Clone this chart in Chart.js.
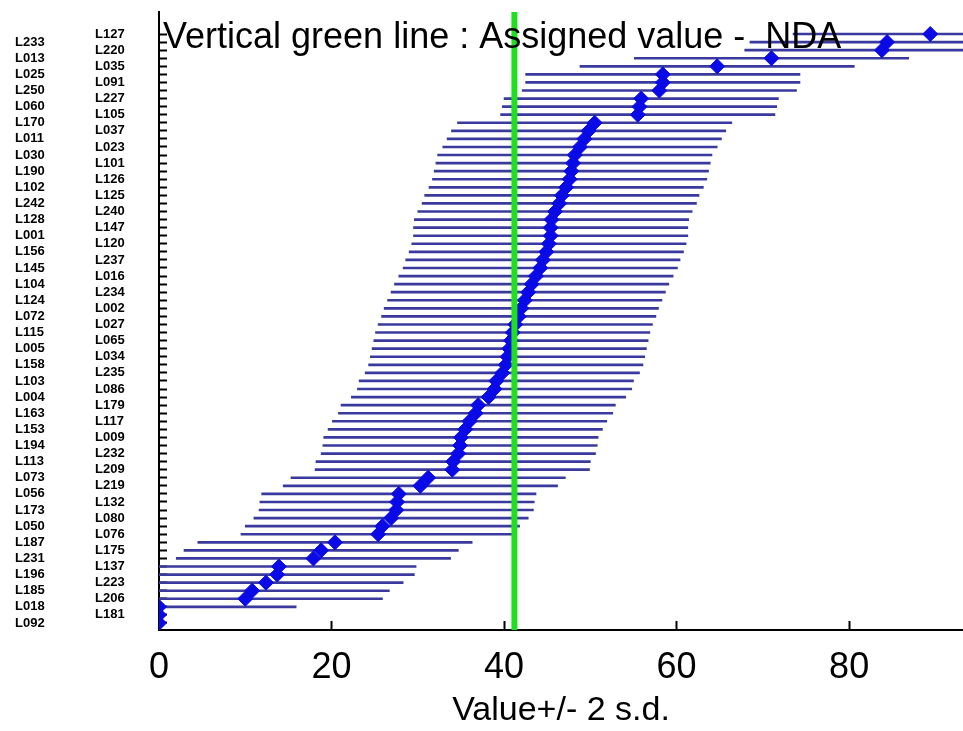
<!DOCTYPE html>
<html lang="en">
<head>
<meta charset="UTF-8">
<title>Value +/- 2 s.d.</title>
<script src="https://cdn.jsdelivr.net/npm/chart.js"></script>
<style>
  body { margin: 0; background: #fff; }
</style>
</head>
<body>
<canvas id="myChart" width="963" height="731"></canvas>
<script>
// labs, top row first
const labCodes = ['L127','L233','L220','L013','L035','L025','L091','L250','L227','L060',
  'L105','L170','L037','L011','L023','L030','L101','L190','L126','L102',
  'L125','L242','L240','L128','L147','L001','L120','L156','L237','L145',
  'L016','L104','L234','L124','L002','L072','L027','L115','L065','L005',
  'L034','L158','L235','L103','L086','L004','L179','L163','L117','L153',
  'L009','L194','L232','L113','L209','L073','L219','L056','L132','L173',
  'L080','L050','L076','L187','L175','L231','L137','L196','L223','L185',
  'L206','L018','L181','L092'];

// reported value per lab
const labValues = [89.4, 84.4, 83.8, 71.0, 64.7, 58.4, 58.4, 58.0, 55.9, 55.7,
  55.5, 50.5, 49.8, 49.3, 48.8, 48.2, 48.0, 47.8, 47.6, 47.2,
  46.7, 46.4, 45.9, 45.5, 45.4, 45.4, 45.2, 44.9, 44.5, 44.2,
  43.7, 43.2, 42.8, 42.4, 42.0, 41.7, 41.3, 41.0, 40.8, 40.6,
  40.4, 40.2, 39.8, 39.1, 38.9, 38.2, 37.0, 36.7, 36.0, 35.5,
  35.0, 34.9, 34.7, 34.1, 34.0, 31.2, 30.3, 27.8, 27.6, 27.5,
  26.9, 25.9, 25.4, 20.4, 18.8, 17.9, 13.9, 13.7, 12.4, 10.8,
  10.0, 0, 0, 0];

// 2 s.d. half width of each bar
const twoSd = [15.9, 15.9, 15.9, 15.9, 15.9, 15.9, 15.9, 15.9, 15.9, 15.9,
  15.9, 15.9, 15.9, 15.9, 15.9, 15.9, 15.9, 15.9, 15.9, 15.9,
  15.9, 15.9, 15.9, 15.9, 15.9, 15.9, 15.9, 15.9, 15.9, 15.9,
  15.9, 15.9, 15.9, 15.9, 15.9, 15.9, 15.9, 15.9, 15.9, 15.9,
  15.9, 15.9, 15.9, 15.9, 15.9, 15.9, 15.9, 15.9, 15.9, 15.9,
  15.9, 15.9, 15.9, 15.9, 15.9, 15.9, 15.9, 15.9, 15.9, 15.9,
  15.9, 15.9, 15.9, 15.9, 15.9, 15.9, 15.9, 15.9, 15.9, 15.9,
  15.9, 15.9, 0, 0];

const assignedValue = 41.2;
const xTicks = [0, 20, 40, 60, 80];
const titleText = 'Vertical green line : Assigned value -  NDA';

const yMin = -1.73;
const yMax = 74.87;
const fontFamily = '"Liberation Sans", Arial, sans-serif';

const rows = labCodes.map((_, i) => i + 1);

// title written over the plot area
const titleOverlay = {
  id: 'titleOverlay',
  afterDraw: (chart) => {
    const { ctx, chartArea } = chart;
    ctx.save();
    ctx.font = '36px ' + fontFamily;
    ctx.fillStyle = '#000';
    ctx.textBaseline = 'alphabetic';
    ctx.fillText(titleText, chartArea.left + 4, chartArea.top + 36);
    ctx.restore();
  }
};

const labelAxis = (weight, width, keep) => ({
  type: 'linear',
  axis: 'y',
  position: 'left',
  reverse: true,
  offset: false,
  min: yMin,
  max: yMax,
  weight: weight,
  afterBuildTicks: (s) => { s.ticks = rows.filter(keep).map(v => ({ value: v })); },
  afterFit: (s) => { s.width = width; },
  grid: { display: false },
  border: { display: false },
  ticks: {
    autoSkip: false,
    crossAlign: 'far',
    color: '#000',
    font: { family: fontFamily, size: 13, weight: 'bold' },
    callback: (v) => labCodes[Math.round(v) - 1]
  }
});

const config = {
  type: 'bar',
  data: {
    datasets: [
      {
        type: 'line',
        data: [{ x: assignedValue, y: yMin }, { x: assignedValue, y: yMax }],
        borderColor: '#1fe01f',
        borderWidth: 6,
        pointRadius: 0,
        xAxisID: 'x',
        yAxisID: 'y',
        order: 0
      },
      {
        type: 'scatter',
        data: rows.map((r, i) => ({ x: labValues[i], y: r })),
        pointStyle: 'rectRot',
        pointRadius: 7.5,
        backgroundColor: '#0a0ae6',
        borderColor: '#0a0ae6',
        borderWidth: 1,
        xAxisID: 'x',
        yAxisID: 'y',
        order: 1
      },
      {
        type: 'bar',
        indexAxis: 'y',
        data: rows.map((r, i) => ({ y: r, x: [labValues[i] - twoSd[i], labValues[i] + twoSd[i]] })),
        backgroundColor: '#3a3a9e',
        barThickness: 2,
        borderWidth: 0,
        clip: 0,
        xAxisID: 'x',
        yAxisID: 'y',
        order: 2
      }
    ]
  },
  options: {
    responsive: false,
    animation: false,
    events: [],
    layout: { autoPadding: false, padding: { left: 15, top: 12, right: 0, bottom: 0 } },
    plugins: {
      legend: { display: false },
      tooltip: { enabled: false }
    },
    scales: {
      x: {
        type: 'linear',
        position: 'bottom',
        offset: false,
        min: 0,
        max: 93.2,
        afterBuildTicks: (s) => { s.ticks = xTicks.map(v => ({ value: v })); },
        afterFit: (s) => { s.height = 101; },
        grid: { offset: false, drawOnChartArea: false, tickLength: -9, tickColor: '#000', tickWidth: 2 },
        border: { color: '#000', width: 2 },
        ticks: { color: '#000', padding: 25, font: { family: fontFamily, size: 36 } },
        title: {
          display: true,
          text: 'Value+/- 2 s.d.',
          color: '#000',
          font: { family: fontFamily, size: 34 },
          padding: { top: 0, bottom: 0 }
        }
      },
      y: {
        type: 'linear',
        position: 'left',
        reverse: true,
        offset: false,
        min: yMin,
        max: yMax,
        weight: 0,
        afterBuildTicks: (s) => { s.ticks = rows.map(v => ({ value: v })); },
        afterFit: (s) => { s.width = 0; },
        grid: { offset: false, drawOnChartArea: false, tickLength: -8, tickColor: '#000', tickWidth: 2 },
        border: { color: '#000', width: 2 },
        ticks: { display: false, autoSkip: false }
      },
      yR: labelAxis(1, 64, r => r % 2 === 1),
      yL: labelAxis(2, 80, r => r % 2 === 0)
    }
  },
  plugins: [titleOverlay]
};

new Chart(document.getElementById('myChart').getContext('2d'), config);
</script>
</body>
</html>
